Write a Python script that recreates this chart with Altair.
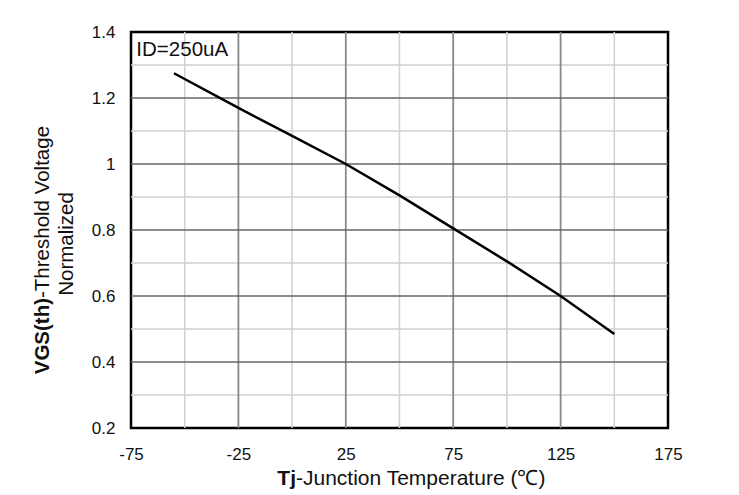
import altair as alt
import pandas as pd

# Data
temps = [-55, -25, 0, 25, 50, 75, 100, 125, 150]
vgs_norm = [1.275, 1.17, 1.085, 1.0, 0.905, 0.805, 0.705, 0.6, 0.485]

x_major = [-75, -25, 25, 75, 125, 175]
x_minor = [-50, 0, 50, 100, 150]
x_major_inner = [-25, 25, 75, 125]
y_major = [0.2, 0.4, 0.6, 0.8, 1.0, 1.2, 1.4]
y_major_inner = [0.4, 0.6, 0.8, 1.0, 1.2]
y_minor = [0.3, 0.5, 0.7, 0.9, 1.1, 1.3]

annotation = "ID=250uA"
y_title_bold = "VGS(th)"
y_title_rest = "-Threshold  Voltage"
y_title_line2 = "Normalized"
x_title_bold = "Tj"
x_title_rest = "-Junction  Temperature  (\u2103)"

FONT = "Liberation Sans"
xs = alt.Scale(domain=[-75, 175], nice=False, zero=False)
ys = alt.Scale(domain=[0.2, 1.4], nice=False, zero=False)

xaxis = alt.Axis(values=x_major, title=None, grid=False, ticks=False, domain=False,
                 labelExpr="'' + datum.value",
                 labelFont=FONT, labelFontSize=17, labelColor="#111",
                 labelPadding=18, labelFlush=False)
yaxis = alt.Axis(values=y_major, title=None, grid=False, ticks=False, domain=False,
                 labelExpr="'' + datum.value",
                 labelFont=FONT, labelFontSize=17, labelColor="#111",
                 labelPadding=16)

df_line = pd.DataFrame({"t": temps, "v": vgs_norm})

vminor = alt.Chart(pd.DataFrame({"t": x_minor})).mark_rule(color="#d0d0d0", strokeWidth=1.5).encode(
    x=alt.X("t:Q", scale=xs, axis=xaxis))
hminor = alt.Chart(pd.DataFrame({"v": y_minor})).mark_rule(color="#d0d0d0", strokeWidth=1.5).encode(
    y=alt.Y("v:Q", scale=ys, axis=yaxis))
vmajor = alt.Chart(pd.DataFrame({"t": x_major_inner})).mark_rule(color="#888888", strokeWidth=1.8).encode(
    x=alt.X("t:Q", scale=xs, axis=xaxis))
hmajor = alt.Chart(pd.DataFrame({"v": y_major_inner})).mark_rule(color="#666666", strokeWidth=1.5).encode(
    y=alt.Y("v:Q", scale=ys, axis=yaxis))

line = alt.Chart(df_line).mark_line(color="black", strokeWidth=2.5).encode(
    x=alt.X("t:Q", scale=xs, axis=xaxis),
    y=alt.Y("v:Q", scale=ys, axis=yaxis),
)

ann = alt.Chart(pd.DataFrame({"t": [-72.5], "v": [1.345], "s": [annotation]})).mark_text(
    align="left", baseline="middle", font=FONT, fontSize=20.5, color="#111").encode(
    x=alt.X("t:Q", scale=xs, axis=xaxis), y=alt.Y("v:Q", scale=ys, axis=yaxis), text="s:N")

ytitle_b = alt.Chart(pd.DataFrame({"s": [y_title_bold]})).mark_text(
    angle=270, align="right", baseline="middle", font=FONT, fontSize=20.5, fontWeight="bold", color="#111"
).encode(x=alt.value(-88), y=alt.value(266), text="s:N")
ytitle_r = alt.Chart(pd.DataFrame({"s": [y_title_rest]})).mark_text(
    angle=270, align="left", baseline="middle", font=FONT, fontSize=20.5, color="#111"
).encode(x=alt.value(-88), y=alt.value(266), text="s:N")
ytitle_2 = alt.Chart(pd.DataFrame({"s": [y_title_line2]})).mark_text(
    angle=270, align="center", baseline="middle", font=FONT, fontSize=20.5, color="#111"
).encode(x=alt.value(-64), y=alt.value(212), text="s:N")

xtitle_b = alt.Chart(pd.DataFrame({"s": [x_title_bold]})).mark_text(
    align="right", baseline="alphabetic", font=FONT, fontSize=21, fontWeight="bold", color="#111"
).encode(x=alt.value(165), y=alt.value(453), text="s:N")
xtitle_r = alt.Chart(pd.DataFrame({"s": [x_title_rest]})).mark_text(
    align="left", baseline="alphabetic", font=FONT, fontSize=21, color="#111"
).encode(x=alt.value(165), y=alt.value(453), text="s:N")

chart = alt.layer(vminor, hminor, vmajor, hmajor, line, ann,
                  ytitle_b, ytitle_r, ytitle_2, xtitle_b, xtitle_r).properties(
    width=537, height=396,
    autosize=alt.AutoSizeParams(type="none"),
    padding={"left": 123, "top": 24, "right": 60, "bottom": 62},
    background="white",
).configure_view(stroke="black", strokeWidth=2.5)

chart.save("out.html", embed_options={"renderer": "svg", "actions": False})
